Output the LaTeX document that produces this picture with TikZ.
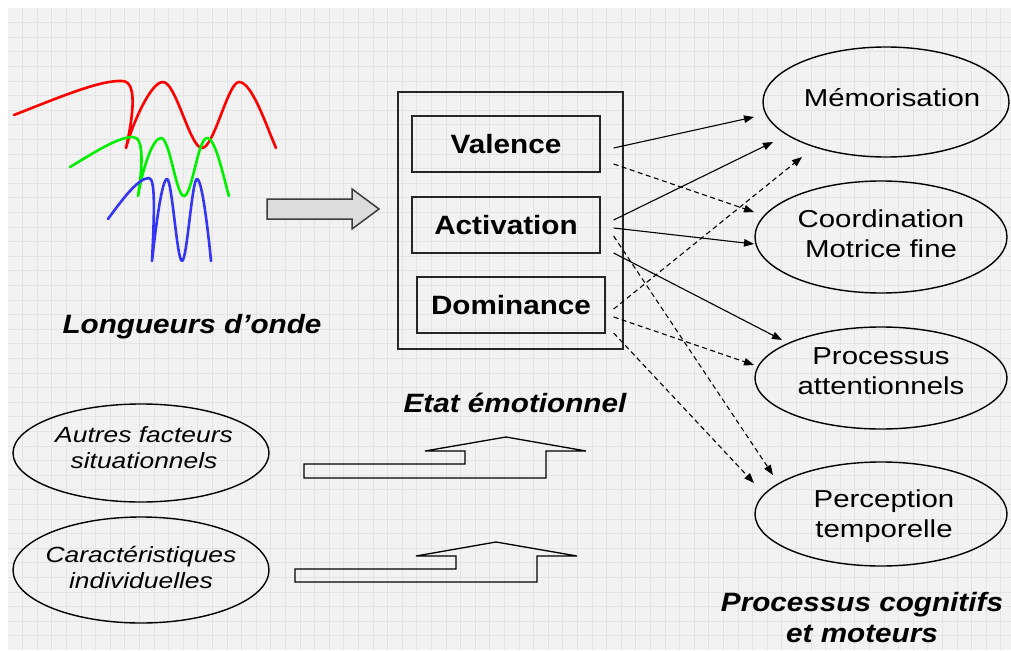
\documentclass[tikz,border=0pt]{standalone}
\usepackage{fontspec}
\setmainfont{Liberation Sans}
\newfontfamily\fR{Liberation Sans}[FakeStretch=1.2]
\newfontfamily\fB{Liberation Sans}[FakeStretch=1.12]
\usetikzlibrary{shapes.geometric,arrows.meta,calc}
\definecolor{bgc}{HTML}{F2F2F2}
\definecolor{gridc}{HTML}{E4E4E4}
\definecolor{wred}{HTML}{FF0000}
\definecolor{wgreen}{HTML}{00F000}
\definecolor{wblue}{HTML}{3535F5}
\definecolor{arrfill}{HTML}{DCDCDC}
\definecolor{arrdraw}{HTML}{3C3C3C}
\begin{document}
\begin{tikzpicture}[x=1pt,y=-1pt,
  txt/.style={font=\fR\fontsize{24.5}{30}\selectfont, align=center, inner sep=0pt},
  bld/.style={font=\fB\bfseries\fontsize{26.5}{31}\selectfont, align=center, inner sep=0pt},
  bldit/.style={font=\fB\bfseries\itshape\fontsize{26.5}{31}\selectfont, align=center, inner sep=0pt},
  itl/.style={font=\fR\itshape\fontsize{22}{26}\selectfont, align=center, inner sep=0pt},
  dimbox/.style={draw=black!85, line width=1.3pt, minimum width=188pt, minimum height=56pt, inner sep=0pt, bld},
  outerbox/.style={draw=black!85, line width=1.3pt, minimum width=225pt, minimum height=257pt, inner sep=0pt},
  ell/.style={draw=black, line width=1.4pt, ellipse, inner sep=0pt},
  wave/.style={line width=2.6pt, line cap=round, line join=round},
  conn/.style={line width=1.1pt, -{Triangle[length=10pt,width=7.5pt]}},
  dconn/.style={conn, dash pattern=on 5pt off 3.5pt},
  fatarrow/.style={draw=black, line width=1.3pt, line join=miter}
]
\useasboundingbox (0,0) rectangle (1011,650);
\fill[bgc] (8,8) rectangle (1011,650);
\foreach \i in {1,...,68} \draw[gridc, line width=0.8pt] ({8+14.6*\i},8) -- ({8+14.6*\i},650);
\foreach \j in {1,...,43} \draw[gridc, line width=0.8pt] (8,{8+14.6*\j}) -- (1011,{8+14.6*\j});

% waves
\draw[wave, wred] (14,115) .. controls (60,97) and (100,80) .. (122,81)
  .. controls (137,81) and (134,112) .. (126,148)
  .. controls (131,128) and (150,82) .. (163,82)
  .. controls (176,82) and (190,148) .. (202,148)
  .. controls (214,148) and (228,82) .. (239,82)
  .. controls (252,82) and (266,125) .. (276,148);
\draw[wave, wgreen] (70,167) .. controls (95,152) and (118,137) .. (133,137)
  .. controls (145,137) and (142,170) .. (138,196)
  .. controls (142,172) and (152,138) .. (161,138)
  .. controls (170,138) and (176,196) .. (184,196)
  .. controls (192,196) and (198,138) .. (207,138)
  .. controls (216,138) and (224,180) .. (229,196);
\draw[wave, wblue] (108,219) .. controls (122,200) and (138,178) .. (149,178)
  .. controls (156,178) and (154,220) .. (152,261)
  .. controls (156,225) and (162,179) .. (167,179)
  .. controls (172,179) and (177,261) .. (182,261)
  .. controls (187,261) and (192,179) .. (197,179)
  .. controls (202,179) and (208,230) .. (211,261);

\node[bldit, anchor=base] (lo) at (192,333) {Longueurs d’onde};

% gray block arrow
\draw[fill=arrfill, draw=arrdraw, line width=1.5pt, line join=miter]
  (267,199) -- (352,199) -- (352,189) -- (379,209) -- (352,229) -- (352,219) -- (267,219) -- cycle;

% emotional state
\node[outerbox] (etat) at (510.5,220.5) {};
\node[dimbox] (val) at (506,144) {Valence};
\node[dimbox] (act) at (506,225) {Activation};
\node[dimbox] (dom) at (511,305) {Dominance};
\node[bldit, anchor=base] (etatT) at (515,412) {Etat émotionnel};

% outcome ellipses
\node[ell, minimum width=246pt, minimum height=110pt] (mem) at (886,102) {};
\node[ell, minimum width=252pt, minimum height=112pt] (coord) at (881,237) {};
\node[ell, minimum width=252pt, minimum height=102pt] (proc) at (881,378) {};
\node[ell, minimum width=252pt, minimum height=104pt] (perc) at (881,514) {};
\node[txt] (memT) at ($(mem)+(6,-4)$) {Mémorisation};
\node[txt] (coordT) at ($(coord)+(0,-3)$) {Coordination\\Motrice fine};
\node[txt] (procT) at ($(proc)+(0,-7)$) {Processus\\attentionnels};
\node[txt] (percT) at ($(perc)+(3,2)$) {Perception\\temporelle};
\node[bldit] (pcm) at (862,618) {Processus cognitifs\\et moteurs};

% left ellipses
\node[ell, minimum width=256pt, minimum height=98pt] (autres) at (141,453) {};
\node[ell, minimum width=256pt, minimum height=106pt] (carac) at (141,570) {};
\node[itl] (autresT) at ($(autres)+(3,-5)$) {Autres facteurs\\situationnels};
\node[itl] (caracT) at ($(carac)+(0,-2)$) {Caractéristiques\\individuelles};

% outline up arrows
\draw[fatarrow] (304,464) -- (465,464) -- (465,451) -- (425,451) -- (506,437) -- (586,451) -- (546,451) -- (546,478) -- (304,478) -- cycle;
\draw[fatarrow] (295,569) -- (456,569) -- (456,556) -- (416,556) -- (496,542) -- (577,556) -- (537,556) -- (537,582) -- (295,582) -- cycle;

% connector end points
\coordinate (v1) at ($(val.east)+(13,4)$);
\coordinate (v2) at ($(val.east)+(13,20)$);
\coordinate (a1) at ($(act.east)+(13,-5)$);
\coordinate (a2) at ($(act.east)+(13,3)$);
\coordinate (a3) at ($(act.east)+(13,11)$);
\coordinate (a4) at ($(act.east)+(13,28)$);
\coordinate (d1) at ($(dom.east)+(8,4)$);
\coordinate (d2) at ($(dom.east)+(8,12)$);
\coordinate (d3) at ($(dom.east)+(8,28)$);
\coordinate (mem1) at (754,117);
\coordinate (mem2) at (773,142);
\coordinate (mem3) at (802,157);
\coordinate (coord1) at (754,212);
\coordinate (coord2) at (754,244);
\coordinate (proc1) at (782,340);
\coordinate (proc2) at (754,365);
\coordinate (perc1) at (773,475);
\coordinate (perc2) at (754,483);

\draw[conn] (v1) -- (mem1);
\draw[dconn] (v2) -- (coord1);
\draw[conn] (a1) -- (mem2);
\draw[conn] (a2) -- (coord2);
\draw[dconn] (a3) -- (perc1);
\draw[conn] (a4) -- (proc1);
\draw[dconn] (d1) -- (mem3);
\draw[dconn] (d2) -- (proc2);
\draw[dconn] (d3) -- (perc2);
\end{tikzpicture}
\end{document}
